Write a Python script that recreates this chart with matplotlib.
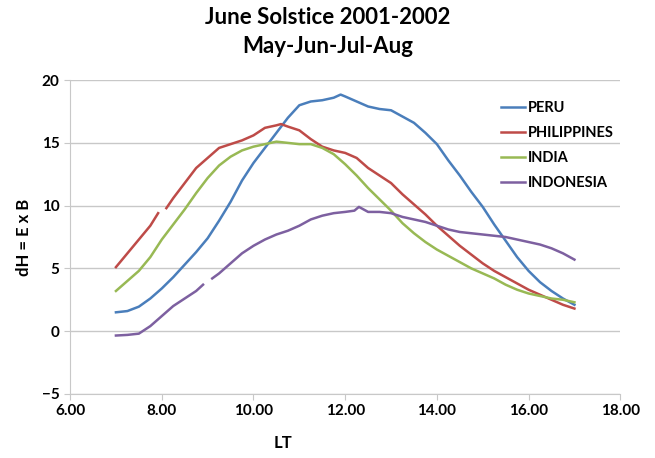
import numpy as np
import matplotlib
matplotlib.use("Agg")
import matplotlib.pyplot as plt

plt.rcParams["font.family"] = ["Lato", "DejaVu Sans"]

# Local time (LT) and dH values; NaN marks a gap in the line
PERU_LT = [7.0, 7.25, 7.5, 7.75, 8.0, 8.25, 8.5, 8.75, 9.0, 9.25, 9.5, 9.75,
           10.0, 10.25, 10.5, 10.75, 11.0, 11.25, 11.5, 11.75, 11.9, 12.0,
           12.25, 12.5, 12.75, 13.0, 13.25, 13.5, 13.75, 14.0, 14.25, 14.5,
           14.75, 15.0, 15.25, 15.5, 15.75, 16.0, 16.25, 16.5, 16.75, 17.0]
PERU_DH = [1.5, 1.6, 1.95, 2.6, 3.4, 4.3, 5.3, 6.3, 7.4, 8.8, 10.3, 12.0,
           13.4, 14.6, 15.8, 17.0, 18.0, 18.3, 18.4, 18.6, 18.85, 18.7,
           18.3, 17.9, 17.7, 17.6, 17.1, 16.6, 15.8, 14.9, 13.6, 12.4,
           11.1, 9.9, 8.5, 7.2, 5.9, 4.8, 3.9, 3.2, 2.6, 2.1]

PHIL_LT = [7.0, 7.25, 7.5, 7.75, 7.92, 7.98, 8.1, 8.25, 8.5, 8.75, 9.0, 9.25,
           9.5, 9.75, 10.0, 10.25, 10.5, 10.6, 10.75, 11.0, 11.25, 11.5,
           11.75, 12.0, 12.25, 12.5, 12.75, 13.0, 13.25, 13.5, 13.75, 14.0,
           14.25, 14.5, 14.75, 15.0, 15.25, 15.5, 15.75, 16.0, 16.25, 16.5,
           16.75, 17.0]
PHIL_DH = [5.1, 6.2, 7.3, 8.4, 9.4, np.nan, 9.8, 10.6, 11.8, 13.0, 13.8, 14.6,
           14.9, 15.2, 15.6, 16.2, 16.4, 16.5, 16.3, 16.0, 15.3, 14.7,
           14.4, 14.2, 13.8, 13.0, 12.4, 11.8, 10.9, 10.1, 9.3, 8.4,
           7.6, 6.8, 6.1, 5.4, 4.8, 4.3, 3.8, 3.3, 2.9, 2.5,
           2.1, 1.8]

INDIA_LT = [7.0, 7.25, 7.5, 7.75, 8.0, 8.25, 8.5, 8.75, 9.0, 9.25, 9.5, 9.75,
            10.0, 10.25, 10.5, 10.75, 11.0, 11.25, 11.5, 11.75, 12.0, 12.25,
            12.5, 12.75, 13.0, 13.25, 13.5, 13.75, 14.0, 14.25, 14.5, 14.75,
            15.0, 15.25, 15.5, 15.75, 16.0, 16.25, 16.5, 16.75, 17.0]
INDIA_DH = [3.2, 4.0, 4.8, 5.9, 7.3, 8.5, 9.7, 11.0, 12.2, 13.2, 13.9, 14.4,
            14.7, 14.9, 15.1, 15.0, 14.9, 14.9, 14.6, 14.1, 13.3, 12.4,
            11.4, 10.5, 9.6, 8.6, 7.8, 7.1, 6.5, 6.0, 5.5, 5.0,
            4.6, 4.2, 3.7, 3.3, 3.0, 2.8, 2.6, 2.5, 2.3]

INDO_LT = [7.0, 7.25, 7.5, 7.75, 8.0, 8.25, 8.5, 8.75, 8.9, 8.98, 9.1, 9.25,
           9.5, 9.75, 10.0, 10.25, 10.5, 10.75, 11.0, 11.25, 11.5, 11.75,
           12.0, 12.2, 12.3, 12.5, 12.75, 13.0, 13.25, 13.5, 13.75, 14.0,
           14.25, 14.5, 14.75, 15.0, 15.25, 15.5, 15.75, 16.0, 16.25, 16.5,
           16.75, 17.0]
INDO_DH = [-0.35, -0.3, -0.2, 0.4, 1.2, 2.0, 2.6, 3.2, 3.7, np.nan, 4.2, 4.6,
           5.4, 6.2, 6.8, 7.3, 7.7, 8.0, 8.4, 8.9, 9.2, 9.4,
           9.5, 9.6, 9.9, 9.5, 9.5, 9.4, 9.1, 8.9, 8.7, 8.4,
           8.1, 7.9, 7.8, 7.7, 7.6, 7.5, 7.3, 7.1, 6.9, 6.6,
           6.2, 5.7]

X_TICKS = [6, 8, 10, 12, 14, 16, 18]
Y_TICKS = [-5, 0, 5, 10, 15, 20]

fig = plt.figure(figsize=(6.55, 4.58), dpi=100)
ax = fig.add_axes([0.107, 0.14, 0.84, 0.685])

series = [
    ("PERU", PERU_LT, PERU_DH, "#4A7EBB"),
    ("PHILIPPINES", PHIL_LT, PHIL_DH, "#BE4B48"),
    ("INDIA", INDIA_LT, INDIA_DH, "#98B954"),
    ("INDONESIA", INDO_LT, INDO_DH, "#7D60A0"),
]
for name, lt, dh, color in series:
    ax.plot(lt, dh, color=color, linewidth=1.8, label=name)

ax.set_xlim(6, 18)
ax.set_ylim(-5, 20)
ax.set_xticks(X_TICKS)
ax.set_xticklabels([f"{v:.2f}" for v in X_TICKS])
ax.set_yticks(Y_TICKS)
ax.grid(axis="y", color="#C8C8C8", linewidth=1.0)
ax.set_axisbelow(True)

for side in ["top", "right"]:
    ax.spines[side].set_visible(False)
ax.spines["left"].set_color("#C8C8C8")
ax.spines["bottom"].set_color("#C8C8C8")
ax.tick_params(axis="both", colors="#C8C8C8", length=4, labelcolor="black",
               labelsize=11)
for lbl in ax.get_xticklabels() + ax.get_yticklabels():
    lbl.set_fontweight("bold")

ax.set_xlabel("LT", fontsize=12, fontweight="bold")
ax.xaxis.set_label_coords(0.387, -0.13)
ax.set_ylabel("dH = E x B", fontsize=12, fontweight="bold")
ax.yaxis.set_label_coords(-0.07, 0.5)

fig.suptitle("June Solstice 2001-2002\nMay-Jun-Jul-Aug", fontsize=16,
             fontweight="bold", y=0.985, linespacing=1.45)

leg = ax.legend(loc="upper left", bbox_to_anchor=(0.76, 0.975), frameon=False,
                handlelength=1.6, handletextpad=0.2, labelspacing=0.75,
                prop={"weight": "bold", "size": 10.5})

fig.savefig("out.png", dpi=100)
